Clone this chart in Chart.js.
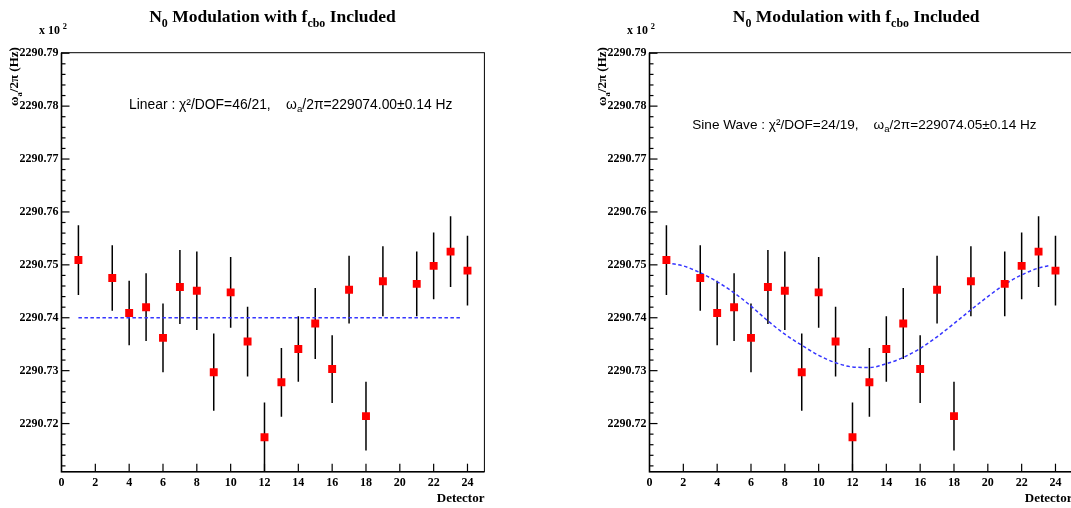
<!DOCTYPE html>
<html><head><meta charset="utf-8">
<script src="https://cdn.jsdelivr.net/npm/chart.js@4.4.1/dist/chart.umd.min.js"></script>
<style>
html,body{margin:0;padding:0;background:#fff;overflow:hidden;width:1071px;height:508px;}
#wrap{position:relative;width:1071px;height:508px;overflow:hidden;background:#fff;}
canvas{position:absolute;top:0;}
</style></head><body>
<div id="wrap">
<canvas id="c1" width="588" height="508" style="left:0px"></canvas>
<canvas id="c2" width="588" height="508" style="left:588px"></canvas>
</div>
<script>
// ---- data (values in units of 10^2 Hz) ----
const detectors = [1, 3, 4, 5, 6, 7, 8, 9, 10, 11, 12, 13, 14, 15, 16, 17, 18, 19, 21, 22, 23, 24];
const values = [2290.7509, 2290.7475, 2290.7409, 2290.7420, 2290.7362, 2290.7458, 2290.7451, 2290.7297,
                2290.7448, 2290.7355, 2290.7174, 2290.7278, 2290.7341, 2290.7389, 2290.7303, 2290.7453,
                2290.7214, 2290.7469, 2290.7464, 2290.7498, 2290.7525, 2290.7489];
const errors = [0.0066, 0.0062, 0.0061, 0.0064, 0.0065, 0.0070, 0.0074, 0.0073, 0.0067, 0.0066, 0.0066,
                0.0065, 0.0062, 0.0067, 0.0064, 0.0064, 0.0065, 0.0066, 0.0061, 0.0063, 0.0067, 0.0066];
const linearFitX = [1, 23.7];
const linearFitY = [2290.7400, 2290.7400];
const sineFitX = [1, 2, 3, 4, 5, 6, 7, 8, 9, 10, 11, 12, 13, 14, 15, 16, 17, 18, 19, 20, 21, 22, 23, 23.7];
const sineFitY = [2290.7504, 2290.7498, 2290.7485, 2290.7468, 2290.7447, 2290.7422, 2290.7394, 2290.7369,
                  2290.7348, 2290.7329, 2290.7315, 2290.7307, 2290.7306, 2290.7313, 2290.7325, 2290.7342,
                  2290.7364, 2290.7389, 2290.7415, 2290.7440, 2290.7463, 2290.7481, 2290.7494, 2290.7499];
const xTickLabels = [0, 2, 4, 6, 8, 10, 12, 14, 16, 18, 20, 22, 24];
const yTickLabels = [2290.72, 2290.73, 2290.74, 2290.75, 2290.76, 2290.77, 2290.78, 2290.79];
const Y_MIN = 2290.7109, Y_MAX = 2290.7901;

const SERIF = '"Liberation Serif", "Times New Roman", serif';
const SANS = '"Liberation Sans", Arial, sans-serif';

function richWidth(ctx, segs, size, family, weight) {
  let w = 0;
  for (const s of segs) { ctx.font = `${weight} ${size * (s.scale || 1)}px ${family}`; w += ctx.measureText(s.t).width; }
  return w;
}
function drawRich(ctx, segs, x, y, size, family, weight, targetW, align) {
  if (targetW) size = size * targetW / richWidth(ctx, segs, size, family, weight);
  const w = richWidth(ctx, segs, size, family, weight);
  let cx = align === 'center' ? x - w / 2 : (align === 'right' ? x - w : x);
  ctx.textBaseline = 'alphabetic'; ctx.textAlign = 'left';
  for (const s of segs) {
    ctx.font = `${weight} ${size * (s.scale || 1)}px ${family}`;
    ctx.fillText(s.t, cx, y + (s.dy || 0) * size);
    cx += ctx.measureText(s.t).width;
  }
}

const titleSegs = [{t:'N'},{t:'0',scale:0.68,dy:0.3},{t:' Modulation with f'},{t:'cbo',scale:0.68,dy:0.3},{t:' Included'}];
const ytitleSegs = [{t:'ω'},{t:'a',scale:0.65,dy:0.3},{t:'/2π (Hz)'}];
const decoById = {
  c1: {titleCx: 272.5, annX: 129, annY: 108.6, annW: 323.7,
       ann: [{t:'Linear : χ²/DOF=46/21,    ω'},{t:'a',scale:0.7,dy:0.25},{t:'/2π=229074.00±0.14 Hz'}]},
  c2: {titleCx: 268.2, annX: 104.3, annY: 128.6, annW: 344.4,
       ann: [{t:'Sine Wave : χ²/DOF=24/19,    ω'},{t:'a',scale:0.7,dy:0.25},{t:'/2π=229074.05±0.14 Hz'}]}
};

const decoPlugin = {
  id: 'deco',
  beforeDatasetsDraw(chart) {
    const {ctx, chartArea: a, scales: {x, y}} = chart;
    ctx.save();
    ctx.beginPath(); ctx.rect(a.left, a.top, a.right - a.left, a.bottom - a.top); ctx.clip();
    ctx.strokeStyle = '#000'; ctx.lineWidth = 1.5;
    detectors.forEach((d, i) => {
      const px = x.getPixelForValue(d);
      ctx.beginPath();
      ctx.moveTo(px, y.getPixelForValue(values[i] - errors[i]));
      ctx.lineTo(px, y.getPixelForValue(values[i] + errors[i]));
      ctx.stroke();
    });
    ctx.restore();
  },
  afterDraw(chart) {
    const {ctx, chartArea: a, scales: {x, y}} = chart;
    const d = decoById[chart.canvas.id];
    ctx.save();
    ctx.strokeStyle = '#000';
    ctx.lineWidth = 1;
    ctx.strokeRect(a.left, a.top, a.right - a.left, a.bottom - a.top);
    ctx.lineWidth = 1.6;
    ctx.beginPath(); ctx.moveTo(a.left, a.top); ctx.lineTo(a.left, a.bottom); ctx.lineTo(a.right, a.bottom); ctx.stroke();
    ctx.lineWidth = 1.2;
    const step = (yTickLabels[1] - yTickLabels[0]) / 5;
    for (let m = -1; m < yTickLabels.length; m++) {
      const base = m < 0 ? yTickLabels[0] - 5 * step : yTickLabels[m];
      for (let j = 0; j < 5; j++) {
        const v = base + j * step;
        if (v < Y_MIN - 1e-9 || v > Y_MAX + 1e-9) continue;
        const py = y.getPixelForValue(v);
        const len = j === 0 ? 8 : 4;
        ctx.beginPath(); ctx.moveTo(a.left, py); ctx.lineTo(a.left + len, py); ctx.stroke();
      }
    }
    for (const v of xTickLabels) {
      if (v === 0) continue;
      const px = x.getPixelForValue(v);
      ctx.beginPath(); ctx.moveTo(px, a.bottom); ctx.lineTo(px, a.bottom - 8); ctx.stroke();
    }
    ctx.fillStyle = '#000';
    drawRich(ctx, titleSegs, d.titleCx, 21.5, 17, SERIF, 'bold', 247, 'center');
    drawRich(ctx, [{t:'x 10 '},{t:'2',scale:0.7,dy:-0.45}], 39, 34, 11, SERIF, 'bold', 28, 'left');
    ctx.save();
    ctx.translate(18, 106);
    ctx.rotate(-Math.PI / 2);
    drawRich(ctx, ytitleSegs, 0, 0, 13, SERIF, 'bold', 59, 'left');
    ctx.restore();
    drawRich(ctx, d.ann, d.annX, d.annY, 12, SANS, 'normal', d.annW, 'left');
    ctx.restore();
  }
};

function makeChart(id, fitX, fitY) {
  const pts = detectors.map((dd, i) => ({x: dd, y: values[i]}));
  const fit = fitX.map((xx, i) => ({x: xx, y: fitY[i]}));
  return new Chart(document.getElementById(id), {
    type: 'scatter',
    data: {datasets: [
      {data: pts, pointStyle: 'rect', pointRadius: 5.6, pointBorderWidth: 0,
       backgroundColor: '#ff0000', borderColor: '#ff0000'},
      {type: 'line', data: fit, showLine: true, pointRadius: 0, borderColor: '#3535ff',
       borderWidth: 1.5, borderDash: [3.5, 2.5], cubicInterpolationMode: 'monotone', fill: false}
    ]},
    options: {
      responsive: false, animation: false, events: [],
      layout: {padding: {left: 0, top: 52.7, right: 103.6, bottom: 0}},
      plugins: {legend: {display: false}, tooltip: {enabled: false}, title: {display: false}},
      scales: {
        x: {type: 'linear', min: 0, max: 25,
            afterBuildTicks: s => { s.ticks = xTickLabels.map(v => ({value: v})); },
            afterFit: s => { s.height = 36.3; },
            grid: {display: false, drawTicks: false}, border: {display: false},
            ticks: {padding: 4, color: '#000', autoSkip: false, maxRotation: 0,
                    font: {family: SERIF, weight: 'bold', size: 12}, callback: v => String(v)},
            title: {display: true, text: 'Detector', align: 'end', color: '#000',
                    font: {family: SERIF, weight: 'bold', size: 13}, padding: {top: 0, bottom: 2}}},
        y: {type: 'linear', min: Y_MIN, max: Y_MAX,
            afterBuildTicks: s => { s.ticks = yTickLabels.map(v => ({value: v})); },
            afterFit: s => { s.width = 61.5; },
            grid: {display: false, drawTicks: false}, border: {display: false},
            ticks: {padding: 3, color: '#000', autoSkip: false,
                    font: {family: SERIF, weight: 'bold', size: 12}, callback: v => Number(v).toFixed(2)}}
      }
    },
    plugins: [decoPlugin]
  });
}
makeChart('c1', linearFitX, linearFitY);
makeChart('c2', sineFitX, sineFitY);
</script>
</body></html>
